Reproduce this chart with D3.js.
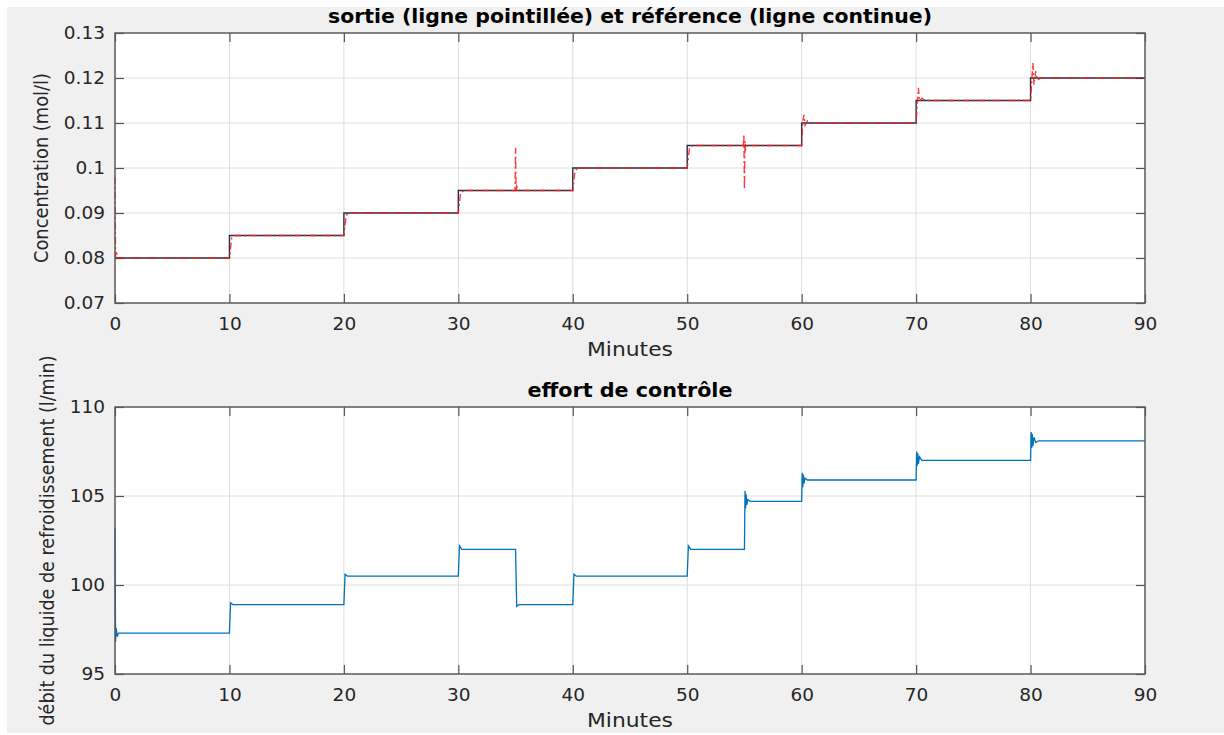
<!DOCTYPE html>
<html>
  <head>
    <meta charset="utf-8">
    <title></title>
  </head>

  <body style="margin:0;background:#fff;">
  <style media="screen">
    text {
      font-family: "DejaVu Sans", sans-serif;
      fill: #262626;
    }
    .tick text {
      font-size: 18.5px;
    }
    .ttl {
      font-weight: bold;
      font-size: 20px;
      fill: #000;
    }
    .lbl {
      font-size: 20px;
    }
  </style>

<svg id="fig" width="1224" height="735"></svg>

    <script src="https://d3js.org/d3.v7.min.js"></script>
    <script type="text/javascript">
    // x ticks shared by both panels
    var xTicks = [0, 10, 20, 30, 40, 50, 60, 70, 80, 90];

    // top panel: reference (solid) steps
    var refT = [0, 10, 20, 30, 40, 50, 60, 70, 80, 90];
    var refV = [0.08, 0.085, 0.09, 0.095, 0.1, 0.105, 0.11, 0.115, 0.12, 0.12];

    // top panel: output (dash-dot)
    var outT = [0, 0.05, 0.15, 0.3,
                10, 10.2, 10.5,
                20, 20.2, 20.5,
                30, 30.2, 30.5,
                34.95, 35, 35.05, 35.1, 35.3,
                40, 40.2, 40.5,
                50, 50.2, 50.5,
                54.9, 54.95, 55, 55.05, 55.1, 55.3,
                60, 60.1, 60.2, 60.3, 60.5, 60.8,
                70, 70.1, 70.2, 70.3, 70.5, 70.8,
                80, 80.1, 80.2, 80.3, 80.45, 80.6, 80.9,
                90];
    var outV = [0.098, 0.08, 0.081, 0.08,
                0.08, 0.0845, 0.085,
                0.085, 0.0895, 0.09,
                0.09, 0.0945, 0.095,
                0.095, 0.1045, 0.0948, 0.096, 0.095,
                0.095, 0.0995, 0.1,
                0.1, 0.1045, 0.105,
                0.105, 0.1075, 0.0952, 0.106, 0.104, 0.105,
                0.105, 0.1105, 0.1118, 0.1095, 0.1105, 0.11,
                0.11, 0.1145, 0.1178, 0.1148, 0.1155, 0.115,
                0.115, 0.119, 0.1233, 0.1185, 0.1215, 0.1195, 0.12,
                0.12];
    var yTicksTop = [0.07, 0.08, 0.09, 0.1, 0.11, 0.12, 0.13];

    // bottom panel: control effort
    var ctrlT = [0, 0.05, 0.1, 0.2, 0.3,
                 10, 10.1, 10.3,
                 20, 20.1, 20.3,
                 30, 30.1, 30.3,
                 35, 35.1, 35.3,
                 40, 40.1, 40.3,
                 50, 50.1, 50.3,
                 55, 55.05, 55.1, 55.15, 55.2, 55.3, 55.5,
                 60, 60.05, 60.1, 60.15, 60.2, 60.3, 60.5,
                 70, 70.05, 70.1, 70.15, 70.2, 70.3, 70.5,
                 80, 80.05, 80.1, 80.15, 80.2, 80.3, 80.45, 80.7,
                 90];
    var ctrlV = [103.2, 96.8, 97.6, 97.1, 97.3,
                 97.3, 99.0, 98.9,
                 98.9, 100.6, 100.5,
                 100.5, 102.2, 102.0,
                 102.0, 98.8, 98.9,
                 98.9, 100.6, 100.5,
                 100.5, 102.2, 102.0,
                 102.0, 105.3, 104.3, 105.1, 104.5, 104.8, 104.7,
                 104.7, 106.3, 105.5, 106.2, 105.7, 106.0, 105.9,
                 105.9, 107.5, 106.7, 107.4, 106.8, 107.2, 107.0,
                 107.0, 108.6, 107.7, 108.5, 107.8, 108.3, 108.0, 108.1,
                 108.1];
    var yTicksBot = [95, 100, 105, 110];

    var svg = d3.select('#fig');
    svg.append('rect').attr('x', 7).attr('y', 7).attr('width', 1217).attr('height', 726)
      .attr('fill', '#f0f0f0');

    var L = 115, R = 1145;
    var x = d3.scaleLinear().domain([0, 90]).range([L, R]);

    function panel(top, bottom, yDomain, yTicks, fmt, title, titleLen, ylab, ylabX, ylabLen){
      var y = d3.scaleLinear().domain(yDomain).range([bottom, top]);
      var g = svg.append('g');
      g.append('rect').attr('x', L).attr('y', top).attr('width', R - L).attr('height', bottom - top)
        .attr('fill', '#fff');

      // grid
      g.selectAll('.gx').data(xTicks.slice(1, -1)).enter().append('line')
        .attr('x1', d=>x(d)).attr('x2', d=>x(d)).attr('y1', top).attr('y2', bottom)
        .attr('stroke', '#dedede').attr('stroke-width', 1);
      g.selectAll('.gy').data(yTicks.slice(1, -1)).enter().append('line')
        .attr('y1', d=>y(d)).attr('y2', d=>y(d)).attr('x1', L).attr('x2', R)
        .attr('stroke', '#dedede').attr('stroke-width', 1);

      // axes, ticks inward on all four sides
      var ax = g.append('g').attr('transform', 'translate(0,' + bottom + ')')
        .call(d3.axisBottom(x).tickValues(xTicks).tickSizeInner(-9).tickSizeOuter(0).tickPadding(12));
      var ay = g.append('g').attr('transform', 'translate(' + L + ',0)')
        .call(d3.axisLeft(y).tickValues(yTicks).tickFormat(fmt).tickSizeInner(-9).tickSizeOuter(0).tickPadding(10));
      g.append('g').attr('transform', 'translate(0,' + top + ')')
        .call(d3.axisTop(x).tickValues(xTicks).tickSizeInner(-9).tickSizeOuter(0).tickFormat(''));
      g.append('g').attr('transform', 'translate(' + R + ',0)')
        .call(d3.axisRight(y).tickValues(yTicks).tickSizeInner(-9).tickSizeOuter(0).tickFormat(''));
      g.selectAll('.domain').remove();
      g.selectAll('.tick line').attr('stroke', '#555').attr('stroke-width', 1.2);
      ax.selectAll('text').attr('dy', '0.35em').attr('y', 21);

      g.append('text').attr('class', 'ttl').attr('x', (L + R) / 2).attr('y', top - 16)
        .attr('text-anchor', 'middle').attr('dominant-baseline', 'middle')
        .attr('textLength', titleLen).attr('lengthAdjust', 'spacingAndGlyphs').text(title);
      g.append('text').attr('class', 'lbl').attr('x', (L + R) / 2).attr('y', bottom + 47)
        .attr('text-anchor', 'middle').attr('dominant-baseline', 'middle')
        .attr('textLength', 86).attr('lengthAdjust', 'spacingAndGlyphs').text('Minutes');
      g.append('text').attr('class', 'lbl')
        .attr('transform', 'translate(' + ylabX + ',' + (top + bottom) / 2 + ') rotate(-90)')
        .attr('text-anchor', 'middle').attr('dominant-baseline', 'middle')
        .attr('textLength', ylabLen).attr('lengthAdjust', 'spacingAndGlyphs').text(ylab);
      return {g: g, y: y, top: top, bottom: bottom};
    }

    function frame(p){
      p.g.append('rect').attr('x', L).attr('y', p.top).attr('width', R - L).attr('height', p.bottom - p.top)
        .attr('fill', 'none').attr('stroke', '#5a5a5a').attr('stroke-width', 1.5);
    }

    // top panel
    var p1 = panel(33, 303, [0.07, 0.13], yTicksTop, d3.format(''),
      'sortie (ligne pointillée) et référence (ligne continue)', 604, 'Concentration (mol/l)', 42, 190);
    var refData = refT.map((t, i) => [t, refV[i]]);
    var outData = outT.map((t, i) => [t, outV[i]]);
    p1.g.append('path').datum(refData)
      .attr('d', d3.line().x(d=>x(d[0])).y(d=>p1.y(d[1])).curve(d3.curveStepAfter))
      .attr('fill', 'none').attr('stroke', '#25304a').attr('stroke-width', 1.4);
    p1.g.append('path').datum(outData)
      .attr('d', d3.line().x(d=>x(d[0])).y(d=>p1.y(d[1])))
      .attr('fill', 'none').attr('stroke', '#ff1a1a').attr('stroke-width', 1.4)
      .attr('stroke-dasharray', '7,3,2,3').attr('stroke-opacity', 0.85);
    frame(p1);

    // bottom panel
    var p2 = panel(407, 674, [95, 110], yTicksBot, d3.format('d'),
      'effort de contrôle', 205, 'débit du liquide de refroidissement (l/min)', 48, 370);
    var ctrlData = ctrlT.map((t, i) => [t, ctrlV[i]]);
    p2.g.append('path').datum(ctrlData)
      .attr('d', d3.line().x(d=>x(d[0])).y(d=>p2.y(d[1])))
      .attr('fill', 'none').attr('stroke', '#0072bd').attr('stroke-width', 1.3);
    frame(p2);
    </script>

  </body>
</html>
